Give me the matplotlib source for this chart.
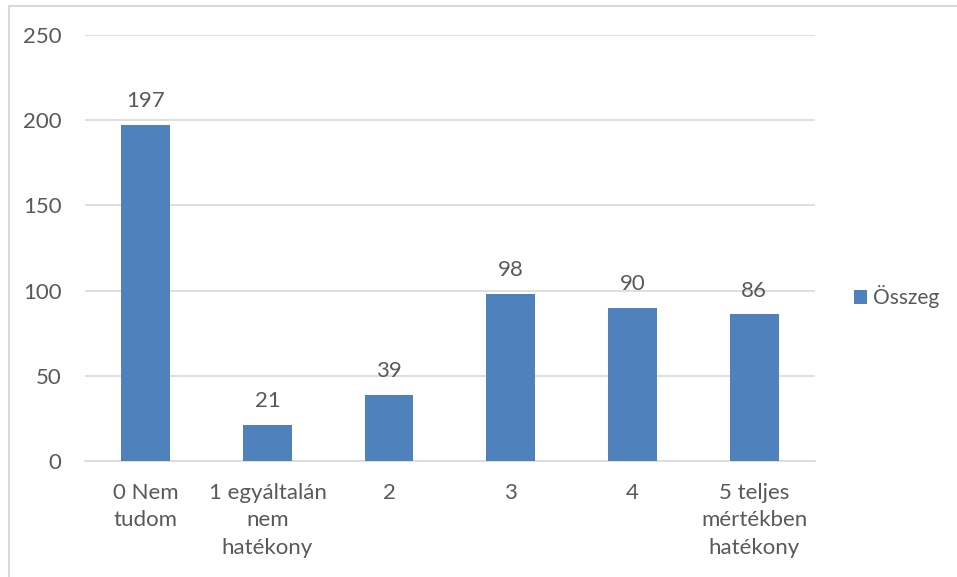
import matplotlib

matplotlib.use("Agg")
import matplotlib.pyplot as plt  # noqa: E402
from matplotlib.patches import Rectangle  # noqa: E402

categories = [
    "0 Nem\ntudom",
    "1 egyáltalán\nnem\nhatékony",
    "2",
    "3",
    "4",
    "5 teljes\nmértékben\nhatékony",
]
values = [197, 21, 39, 98, 90, 86]
series_name = "Összeg"
yticks = [0, 50, 100, 150, 200, 250]

BAR_COLOR = "#4f81bd"
TEXT_COLOR = "#595959"
GRID_COLOR = "#d9d9d9"
FS = 16

plt.rcParams["font.family"] = ["Lato", "DejaVu Sans"]
plt.rcParams["font.size"] = FS

W, H = 957, 577
fig = plt.figure(figsize=(W / 100, H / 100), dpi=100)

# light frame around the chart area (only top/left edges visible)
fig.patches.append(
    Rectangle((8.5 / W, -0.2), 2.0, 1.2 - 5.5 / H, transform=fig.transFigure,
              fill=False, edgecolor=GRID_COLOR, lw=1.5)
)

ax = fig.add_axes([85 / W, 1 - 461 / H, (815 - 85) / W, (461 - 35) / H])
x = range(len(categories))
bars = ax.bar(x, values, width=0.4, color=BAR_COLOR, label=series_name, zorder=3)
ax.bar_label(bars, labels=[str(v) for v in values], padding=10, color=TEXT_COLOR,
             fontsize=FS)

ax.set_xlim(-0.5, len(categories) - 0.5)
ax.set_ylim(0, 250)
ax.set_yticks(yticks)
ax.set_xticks(list(x))
ax.set_xticklabels(categories, linespacing=1.45)
ax.yaxis.grid(True, color=GRID_COLOR, lw=1.2, zorder=0)
ax.tick_params(axis="both", length=0, colors=TEXT_COLOR, labelsize=FS)
ax.tick_params(axis="y", pad=17)
ax.tick_params(axis="x", pad=16)
for side in ("top", "right", "left"):
    ax.spines[side].set_visible(False)
ax.spines["bottom"].set_color(GRID_COLOR)
ax.spines["bottom"].set_linewidth(1.2)

ax.legend(loc="center left", bbox_to_anchor=(854 / W, 1 - 297 / H),
          bbox_transform=fig.transFigure, frameon=False, borderpad=0,
          borderaxespad=0, handlelength=0.62, handleheight=0.62,
          handletextpad=0.3, labelcolor=TEXT_COLOR, fontsize=15)

fig.savefig("out.png", dpi=100)
